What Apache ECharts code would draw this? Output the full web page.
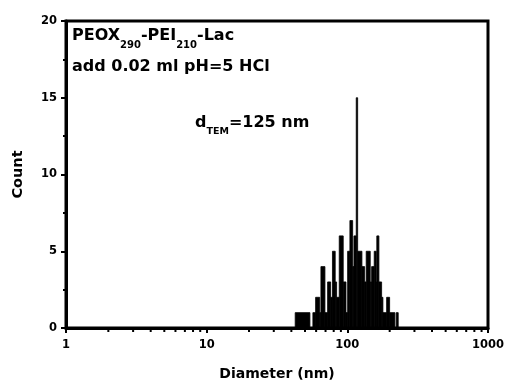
<!DOCTYPE html>
<html>
<head>
<meta charset="utf-8">
<script src="https://cdn.jsdelivr.net/npm/echarts@6/dist/echarts.min.js"></script>
<style>
  html, body { margin: 0; padding: 0; background: #fff; }
  #chart { width: 507px; height: 386px; }
</style>
</head>
<body>
<div id="chart"></div>
<script>
// histogram bins (nm) and counts
const binStart = [42.6, 56.9, 59.5, 63.6, 64.9, 69.3, 72.4, 76.1, 78.4, 82.0, 83.9, 87.6, 93.5, 97.8,
  100.5, 104.3, 109.1, 111.4, 115.7, 118.4, 127.0, 132.7, 136.2, 145.5, 148.8, 155.3, 160.5, 162.0,
  167.7, 175.3, 179.0, 190.3, 199.8, 222.6]
const binEnd = [54.2, 59.5, 63.6, 64.9, 69.3, 72.4, 76.1, 78.4, 82.0, 83.9, 87.6, 93.5, 97.8, 100.5,
  104.3, 109.1, 111.4, 115.7, 118.4, 127.0, 132.7, 136.2, 145.5, 148.8, 155.3, 160.5, 162.0, 167.7,
  175.3, 179.0, 190.3, 199.8, 217.8, 230.0]
const counts = [1, 1, 2, 1, 4, 1, 3, 2, 5, 3, 2, 6, 3, 1,
  5, 7, 4, 6, 15, 5, 4, 3, 5, 3, 4, 5, 3, 6,
  3, 2, 1, 2, 1, 1]

// minor tick positions on the log axis
const xMinorTicks = [2, 3, 4, 5, 6, 7, 8, 9, 20, 30, 40, 50, 60, 70, 80, 90,
  200, 300, 400, 500, 600, 700, 800, 900]

const FONT = 'DejaVu Sans'
const chart = echarts.init(document.getElementById('chart'))

const bars = binStart.map((s, i) => [s, binEnd[i], counts[i]])

chart.setOption({
  animation: false,
  grid: {
    left: 66, right: 19, top: 21, bottom: 58,
    show: true, borderColor: '#000', borderWidth: 3
  },
  xAxis: {
    type: 'log',
    logBase: 10,
    min: 1,
    max: 1000,
    name: 'Diameter (nm)',
    nameLocation: 'middle',
    nameGap: 39,
    nameTextStyle: { fontFamily: FONT, fontWeight: 'bold', fontSize: 14, color: '#000' },
    axisLine: { lineStyle: { color: '#000', width: 3 } },
    axisTick: { length: 5, lineStyle: { color: '#000', width: 2 } },
    axisLabel: {
      fontFamily: FONT, fontWeight: 'bold', fontSize: 11.5, color: '#000', margin: 11,
      formatter: (v) => String(v)
    },
    splitLine: { show: false }
  },
  yAxis: {
    type: 'value',
    min: 0,
    max: 20,
    interval: 5,
    name: 'Count',
    nameLocation: 'middle',
    nameGap: 40,
    nameTextStyle: { fontFamily: FONT, fontWeight: 'bold', fontSize: 14.5, color: '#000' },
    axisLine: { lineStyle: { color: '#000', width: 3 } },
    axisTick: { length: 5, lineStyle: { color: '#000', width: 2 } },
    minorTick: { show: true, splitNumber: 2, length: 3, lineStyle: { color: '#000', width: 2 } },
    axisLabel: { fontFamily: FONT, fontWeight: 'bold', fontSize: 11.5, color: '#000', margin: 9 },
    splitLine: { show: false }
  },
  series: [
    {
      type: 'custom',
      name: 'count',
      data: bars,
      encode: { x: [0, 1], y: 2 },
      renderItem: (params, api) => {
        const p0 = api.coord([api.value(0), api.value(2)])
        const p1 = api.coord([api.value(1), 0])
        return {
          type: 'rect',
          shape: { x: p0[0], y: p0[1], width: p1[0] - p0[0], height: p1[1] - p0[1] },
          style: { fill: '#000', stroke: '#000', lineWidth: 0.8 }
        }
      }
    },
    {
      // minor ticks for the log axis
      type: 'custom',
      clip: false,
      silent: true,
      data: xMinorTicks.map(v => [v, 0]),
      renderItem: (params, api) => {
        const p = api.coord([api.value(0), 0])
        return {
          type: 'line',
          shape: { x1: p[0], y1: p[1] + 1.5, x2: p[0], y2: p[1] + 4 },
          style: { stroke: '#000', lineWidth: 2 }
        }
      }
    }
  ],
  graphic: [
    {
      type: 'text',
      left: 72, top: 28,
      style: {
        text: '{b|PEOX}{s|290}{b|-PEI}{s|210}{b|-Lac}',
        rich: {
          b: { fontFamily: FONT, fontWeight: 'bold', fontSize: 16, color: '#000', verticalAlign: 'top', lineHeight: 18 },
          s: { fontFamily: FONT, fontWeight: 'bold', fontSize: 10, color: '#000', verticalAlign: 'top', lineHeight: 10, padding: [12, 0, 0, 0] }
        }
      }
    },
    {
      type: 'text',
      left: 72, top: 59,
      style: {
        text: 'add 0.02 ml pH=5 HCl',
        fontFamily: FONT, fontWeight: 'bold', fontSize: 16, fill: '#000'
      }
    },
    {
      type: 'text',
      left: 195, top: 115,
      style: {
        text: '{b|d}{s|TEM}{b|=125 nm}',
        rich: {
          b: { fontFamily: FONT, fontWeight: 'bold', fontSize: 16, color: '#000', verticalAlign: 'top', lineHeight: 18 },
          s: { fontFamily: FONT, fontWeight: 'bold', fontSize: 9.5, color: '#000', verticalAlign: 'top', lineHeight: 10, padding: [12, 0, 0, 0] }
        }
      }
    }
  ]
})
</script>
</body>
</html>
